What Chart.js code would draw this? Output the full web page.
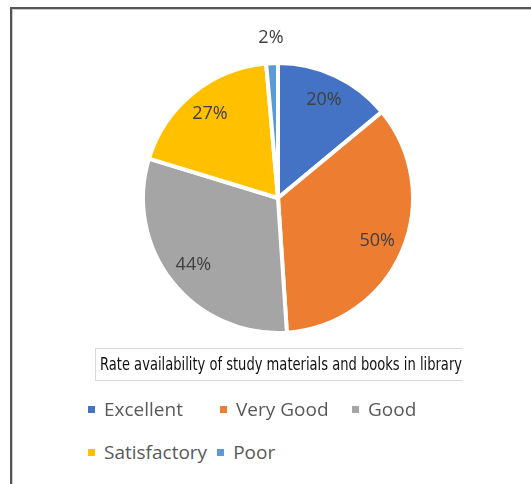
<!DOCTYPE html>
<html>
<head>
<meta charset="utf-8">
<script src="https://cdn.jsdelivr.net/npm/chart.js@4"></script>
<style>
  body { margin: 0; background: #fff; width: 531px; height: 484px; overflow: hidden; position: relative; font-family: "Open Sans", "Noto Sans", sans-serif; }
  #frame { position: absolute; left: 10px; top: 7px; width: 560px; height: 520px; border-top: 2px solid #555; border-left: 2px solid #555; box-shadow: inset 1px 1px 0 #ccc; }
  #wrap { position: absolute; left: 78px; top: 18px; width: 400px; height: 360px; }
  #titleBox { position: absolute; left: 95px; top: 348px; width: 368px; height: 33px; border: 1px solid #d9d9d9; border-right: none; box-sizing: border-box; overflow: hidden; }
  #titleText { position: absolute; left: 4px; top: 5px; white-space: nowrap; font-family: "Liberation Sans Narrow", "DejaVu Sans Condensed", "Liberation Sans", sans-serif; font-size: 17px; color: #111; transform-origin: 0 0; }
  .row { position: absolute; left: 88px; display: flex; align-items: center; font-size: 19px; color: #595959; }
  .item { display: flex; align-items: center; }
  .sq { width: 7px; height: 7px; margin-right: 9px; }
</style>
</head>
<body>
<div id="frame"></div>
<div id="wrap"><canvas id="myChart"></canvas></div>
<div id="titleBox"><span id="titleText"></span></div>
<div id="legend"></div>
<script>
// data
var categories = ['Excellent', 'Very Good', 'Good', 'Satisfactory', 'Poor'];
var values = [20, 50, 44, 27, 2];
var labels = ['20%', '50%', '44%', '27%', '2%'];
var colors = ['#4472C4', '#ED7D31', '#A5A5A5', '#FFC000', '#5B9BD5'];
var title = 'Rate availability of study materials and books in library';

// title, squeezed to the width of the box
var titleText = document.getElementById('titleText');
titleText.textContent = title;
var w = titleText.getBoundingClientRect().width;
titleText.style.transform = 'scaleX(' + (362 / w) + ')';

// legend rows like Excel lays them out
var legendRows = [[0, 1, 2], [3, 4]];
var rowTops = [396, 439];
var legend = document.getElementById('legend');
legendRows.forEach(function (row, r) {
  var div = document.createElement('div');
  div.className = 'row';
  div.style.top = rowTops[r] + 'px';
  row.forEach(function (i) {
    var item = document.createElement('div');
    item.className = 'item';
    if (r === 0) item.style.width = '132px';
    else item.style.marginRight = '10px';
    var sq = document.createElement('span');
    sq.className = 'sq';
    sq.style.background = colors[i];
    var txt = document.createElement('span');
    txt.textContent = categories[i];
    item.appendChild(sq);
    item.appendChild(txt);
    div.appendChild(item);
  });
  legend.appendChild(div);
});

// draws the % labels, inside the slices, last one outside
var sliceLabels = {
  id: 'sliceLabels',
  afterDatasetsDraw: function (chart) {
    var ctx = chart.ctx;
    var meta = chart.getDatasetMeta(0);
    ctx.save();
    ctx.font = '18px "Open Sans", "Noto Sans", sans-serif';
    ctx.fillStyle = '#404040';
    ctx.textAlign = 'center';
    ctx.textBaseline = 'middle';
    meta.data.forEach(function (arc, i) {
      var mid = (arc.startAngle + arc.endAngle) / 2;
      var k = values[i] < 5 ? 1.19 : 0.8;
      var x = arc.x + Math.cos(mid) * arc.outerRadius * k;
      var y = arc.y + Math.sin(mid) * arc.outerRadius * k;
      ctx.fillText(labels[i], x, y);
    });
    ctx.restore();
  }
};

var ctx = document.getElementById('myChart').getContext('2d');
var myChart = new Chart(ctx, {
  type: 'pie',
  data: {
    labels: categories,
    datasets: [{
      data: values,
      backgroundColor: colors,
      borderColor: '#fff',
      borderWidth: 4
    }]
  },
  options: {
    responsive: true,
    maintainAspectRatio: false,
    animation: false,
    radius: 135,
    plugins: {
      legend: { display: false },
      tooltip: { enabled: false }
    }
  },
  plugins: [sliceLabels]
});
</script>
</body>
</html>
